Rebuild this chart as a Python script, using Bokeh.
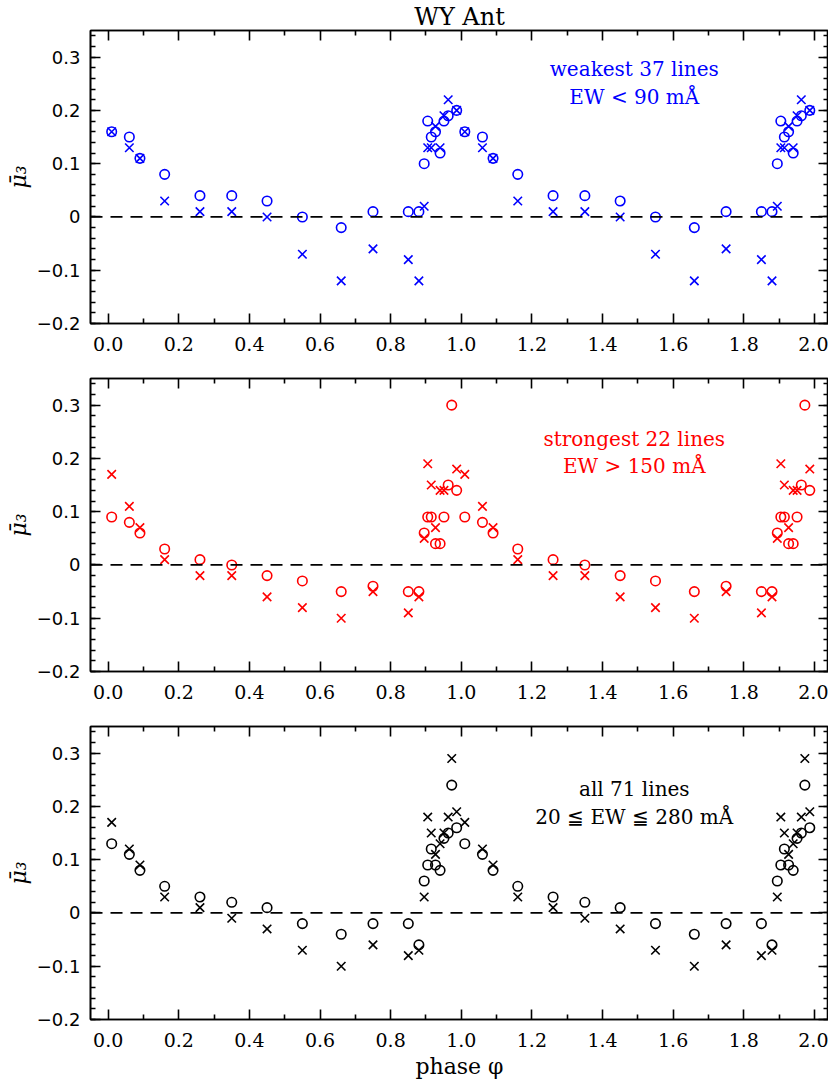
import numpy as np
from bokeh.plotting import figure
from bokeh.models import (Range1d, FixedTicker, LinearAxis, Span, Label,
                          CustomJSTickFormatter, ColumnDataSource)
from bokeh.layouts import column
from bokeh.embed import file_html
from bokeh.resources import INLINE

nan = float("nan")

# phases of the observations (each is also plotted at phase + 1)
phase = [0.01, 0.06, 0.09, 0.16, 0.26, 0.35, 0.45, 0.55, 0.66, 0.75, 0.85,
         0.88, 0.895, 0.905, 0.915, 0.927, 0.94, 0.951, 0.963, 0.973, 0.987]

weak_circle = [0.16, 0.15, 0.11, 0.08, 0.04, 0.04, 0.03, 0.00, -0.02, 0.01, 0.01,
               0.01, 0.10, 0.18, 0.15, 0.16, 0.12, 0.18, 0.19, nan, 0.20]
weak_cross = [0.16, 0.13, 0.11, 0.03, 0.01, 0.01, 0.00, -0.07, -0.12, -0.06, -0.08,
              -0.12, 0.02, 0.13, 0.13, 0.17, 0.13, 0.19, 0.22, nan, 0.20]

strong_circle = [0.09, 0.08, 0.06, 0.03, 0.01, 0.00, -0.02, -0.03, -0.05, -0.04, -0.05,
                 -0.05, 0.06, 0.09, 0.09, 0.04, 0.04, 0.09, 0.15, 0.30, 0.14]
strong_cross = [0.17, 0.11, 0.07, 0.01, -0.02, -0.02, -0.06, -0.08, -0.10, -0.05, -0.09,
                -0.06, 0.05, 0.19, 0.15, 0.07, 0.14, 0.14, nan, nan, 0.18]

all_circle = [0.13, 0.11, 0.08, 0.05, 0.03, 0.02, 0.01, -0.02, -0.04, -0.02, -0.02,
              -0.06, 0.06, 0.09, 0.12, 0.09, 0.08, 0.14, 0.15, 0.24, 0.16]
all_cross = [0.17, 0.12, 0.09, 0.03, 0.01, -0.01, -0.03, -0.07, -0.10, -0.06, -0.08,
             -0.07, 0.03, 0.18, 0.15, 0.11, 0.13, 0.15, 0.18, 0.29, 0.19]

x_ticks = [0.0, 0.2, 0.4, 0.6, 0.8, 1.0, 1.2, 1.4, 1.6, 1.8, 2.0]
x_tick_labels = ["0.0", "0.2", "0.4", "0.6", "0.8", "1.0", "1.2", "1.4", "1.6", "1.8", "2.0"]
x_minor = [0.1, 0.3, 0.5, 0.7, 0.9, 1.1, 1.3, 1.5, 1.7, 1.9]
y_ticks = [-0.2, -0.1, 0.0, 0.1, 0.2, 0.3]
y_tick_labels = ["\u22120.2", "\u22120.1", "0", "0.1", "0.2", "0.3"]
y_minor = [round(-0.2 + 0.02 * i, 2) for i in range(28)]

panel_titles = ["WY Ant", None, None]
panel_text = [["weakest 37 lines", "EW < 90 m\u00c5"],
              ["strongest 22 lines", "EW > 150 m\u00c5"],
              ["all 71 lines", "20 \u2266 EW \u2266 280 m\u00c5"]]
panel_text_y = [[0.277, 0.225], [0.237, 0.185], [0.232, 0.180]]
panel_colors = ["#0000ff", "#ff0000", "#000000"]

SERIF = "DejaVu Serif"
SANS = "DejaVu Sans"


def style_axis(ax, ticks, minor, labels, font, size, show_labels=True):
    ax.ticker = FixedTicker(ticks=ticks, minor_ticks=minor)
    if show_labels:
        ax.major_label_overrides = {t: l for t, l in zip(ticks, labels)}
        ax.major_label_text_font_size = size
    else:
        ax.formatter = CustomJSTickFormatter(code="return ''")
        ax.major_label_text_font_size = "0px"
        ax.major_label_standoff = 0
    ax.major_label_text_font = font
    ax.major_label_text_color = "black"
    ax.axis_line_color = "black"
    ax.axis_line_width = 1.6
    ax.major_tick_line_color = "black"
    ax.major_tick_line_width = 1.6
    ax.minor_tick_line_color = "black"
    ax.minor_tick_line_width = 1.6
    ax.major_tick_in = 10
    ax.major_tick_out = 0
    ax.minor_tick_in = 5
    ax.minor_tick_out = 0


def make_panel(i, circ, cross, top_border, bottom_border, xlabel=None):
    color = panel_colors[i]
    p = figure(frame_width=738, frame_height=293,
               x_range=Range1d(-0.05, 2.04), y_range=Range1d(-0.2, 0.35),
               output_backend="svg", toolbar_location=None,
               min_border_left=90, min_border_right=0,
               min_border_top=top_border, min_border_bottom=bottom_border,
               x_axis_location=None, y_axis_location=None)
    p.xgrid.visible = False
    p.ygrid.visible = False
    p.outline_line_color = "black"
    p.outline_line_width = 1.6
    p.background_fill_color = "white"
    p.border_fill_color = "white"

    xb = LinearAxis()
    style_axis(xb, x_ticks, x_minor, x_tick_labels, SERIF, "19px")
    xb.major_label_standoff = 13
    if xlabel:
        xb.axis_label = xlabel
        xb.axis_label_text_font = SERIF
        xb.axis_label_text_font_size = "22px"
        xb.axis_label_text_font_style = "normal"
        xb.axis_label_text_color = "black"
        xb.axis_label_standoff = 4
    p.add_layout(xb, "below")
    xt = LinearAxis()
    style_axis(xt, x_ticks, x_minor, x_tick_labels, SERIF, "19px", show_labels=False)
    p.add_layout(xt, "above")

    yl = LinearAxis()
    style_axis(yl, y_ticks, y_minor, y_tick_labels, SANS, "18px")
    yl.major_label_standoff = 10
    yl.axis_label = "\u03bc\u0304\u2083"
    yl.axis_label_text_font = SERIF
    yl.axis_label_text_font_size = "22px"
    yl.axis_label_text_font_style = "italic"
    yl.axis_label_text_color = "black"
    yl.axis_label_standoff = 3
    p.add_layout(yl, "left")
    yr = LinearAxis()
    style_axis(yr, y_ticks, y_minor, y_tick_labels, SANS, "18px", show_labels=False)
    p.add_layout(yr, "right")

    p.add_layout(Span(location=0, dimension="width", line_color="black",
                      line_width=1.8, line_dash="12 8"))

    ph = np.array(phase)
    xs = np.concatenate([ph, ph + 1.0])
    src = ColumnDataSource(dict(x=xs,
                                c=np.concatenate([circ, circ]),
                                k=np.concatenate([cross, cross])))
    p.scatter("x", "c", source=src, marker="circle", size=9.5,
              fill_color=None, line_color=color, line_width=1.6)
    p.scatter("x", "k", source=src, marker="x", size=12,
              line_color=color, line_width=1.6)

    for txt, ty in zip(panel_text[i], panel_text_y[i]):
        p.add_layout(Label(x=1.49, y=ty, text=txt, text_align="center",
                           text_baseline="middle", text_color=color,
                           text_font=SERIF, text_font_size="20px"))

    if panel_titles[i]:
        p.title.text = panel_titles[i]
        p.title.align = "center"
        p.title.text_font = SERIF
        p.title.text_font_size = "24px"
        p.title.text_font_style = "normal"
        p.title.text_color = "black"
        p.title.standoff = 0
        p.title.offset = 0
    return p


p1 = make_panel(0, weak_circle, weak_cross, 22, 41)
p2 = make_panel(1, strong_circle, strong_cross, 14, 41)
p3 = make_panel(2, all_circle, all_cross, 14, 56, xlabel="phase \u03c6")

layout = column(p1, p2, p3, spacing=0)
open("out.html", "w").write(file_html(layout, INLINE))
